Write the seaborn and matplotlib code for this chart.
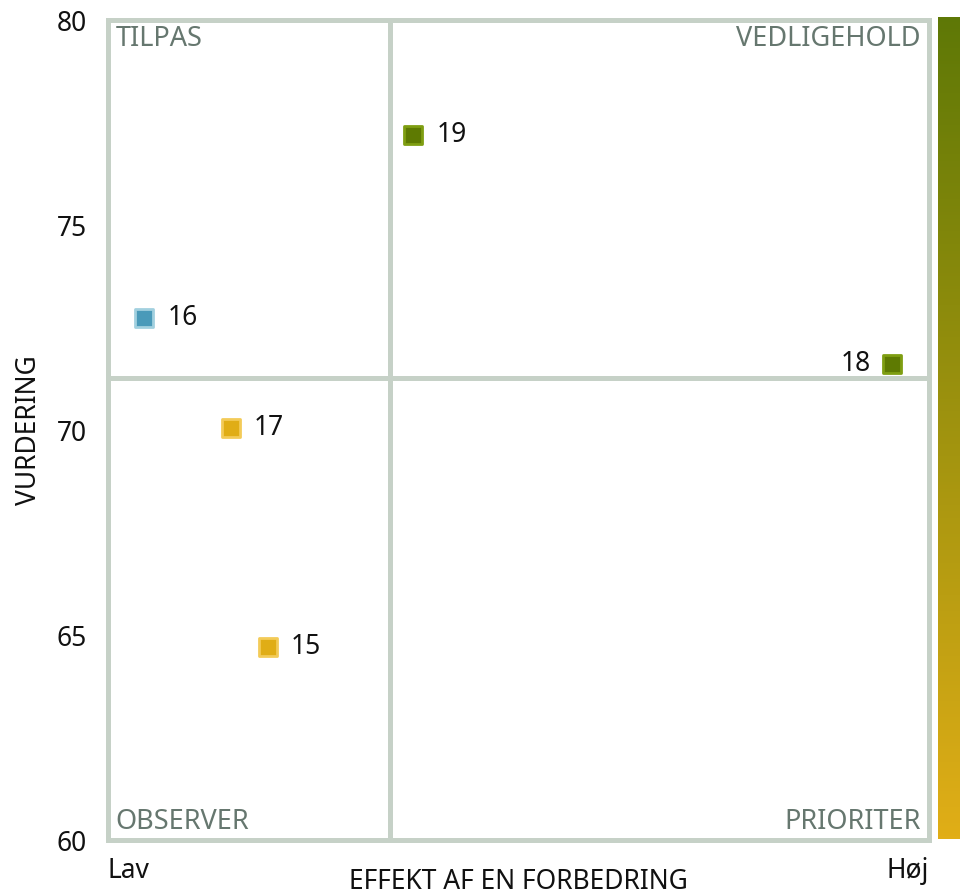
import numpy as np
import pandas as pd
import matplotlib
matplotlib.use("Agg")
import matplotlib.pyplot as plt
import seaborn as sns
from matplotlib.colors import LinearSegmentedColormap

## data: punkt nummer, effekt (andel af aksen Lav->Høj) og vurdering
punkt = ["15", "16", "17", "18", "19"]
effekt = [0.195, 0.045, 0.150, 0.955, 0.372]
vurdering = [64.71, 72.74, 70.04, 71.61, 77.19]

y_ticks = [60, 65, 70, 75, 80]
x_ticklabels = ["Lav", "Høj"]
x_title = "EFFEKT AF EN FORBEDRING"
y_title = "VURDERING"
kvadranter = ["TILPAS", "VEDLIGEHOLD", "OBSERVER", "PRIORITER"]

df = pd.DataFrame({"punkt": punkt, "effekt": effekt, "vurdering": vurdering})
mx = df.effekt.mean()
my = df.vurdering.mean()

def kvadrant(r):
    if r.vurdering >= my:
        return "TILPAS" if r.effekt < mx else "VEDLIGEHOLD"
    return "OBSERVER" if r.effekt < mx else "PRIORITER"

df["kvadrant"] = df.apply(kvadrant, axis=1)

# fyld og kant farver pr kvadrant
fyld = {"TILPAS": "#4a9ab9", "VEDLIGEHOLD": "#5e7a02",
        "OBSERVER": "#e0ad16", "PRIORITER": "#e0ad16"}
kant = {"TILPAS": "#a2d0df", "VEDLIGEHOLD": "#7f9e12",
        "OBSERVER": "#f3cb58", "PRIORITER": "#f3cb58"}

sns.set_style("white")
plt.rcParams['font.family'] = ['Noto Sans', 'DejaVu Sans']

fs = 19
fig = plt.figure(figsize=(9.6, 8.96), dpi=100)
ax = fig.add_axes([107.5/960, 56/896, 821.8/960, 820/896])

grid_col = "#c6d1c7"
lw = 3.6

for s in ax.spines.values():
    s.set_visible(True)
    s.set_color(grid_col)
    s.set_linewidth(lw)
    s.set_capstyle('projecting')

ax.axvline(mx, color=grid_col, lw=lw, solid_capstyle='projecting', clip_on=False, zorder=1)
ax.axhline(my, color=grid_col, lw=lw, solid_capstyle='projecting', clip_on=False, zorder=1)

for q, g in df.groupby("kvadrant"):
    sns.scatterplot(data=g, x="effekt", y="vurdering", marker="s", s=13**2,
                    color=fyld[q], edgecolor=kant[q], linewidth=2,
                    ax=ax, zorder=3, legend=False)

for _, r in df.iterrows():
    if r.effekt > 0.8:
        ax.annotate(r.punkt, (r.effekt, r.vurdering), xytext=(-21, 0),
                    textcoords='offset pixels', ha='right', va='center',
                    fontsize=fs, color='#111111')
    else:
        ax.annotate(r.punkt, (r.effekt, r.vurdering), xytext=(23, 0),
                    textcoords='offset pixels', ha='left', va='center',
                    fontsize=fs, color='#111111')

q_col = "#66776f"
qfs = 19.5
ax.annotate(kvadranter[0], (0, 1), xycoords='axes fraction', xytext=(8, -5),
            textcoords='offset pixels', ha='left', va='top', fontsize=qfs, color=q_col)
ax.annotate(kvadranter[1], (1, 1), xycoords='axes fraction', xytext=(-9, -5),
            textcoords='offset pixels', ha='right', va='top', fontsize=qfs, color=q_col)
ax.annotate(kvadranter[2], (0, 0), xycoords='axes fraction', xytext=(8, 11),
            textcoords='offset pixels', ha='left', va='baseline', fontsize=qfs, color=q_col)
ax.annotate(kvadranter[3], (1, 0), xycoords='axes fraction', xytext=(-9, 11),
            textcoords='offset pixels', ha='right', va='baseline', fontsize=qfs, color=q_col)

ax.set_xlim(0, 1)
ax.set_ylim(y_ticks[0], y_ticks[-1])
ax.set_yticks(y_ticks)
ax.set_xticks([0, 1])
ax.set_xticklabels(x_ticklabels)
ax.get_xticklabels()[0].set_ha('left')
ax.get_xticklabels()[1].set_ha('right')
ax.tick_params(axis='both', length=0, labelsize=fs, colors='#111111')
ax.tick_params(axis='y', pad=15)
ax.tick_params(axis='x', pad=12)

ax.set_xlabel(x_title, fontsize=fs, color='#111111')
ax.xaxis.set_label_coords(0.5, -0.034)
ax.set_ylabel(y_title, fontsize=fs, color='#111111')
ax.yaxis.set_label_coords(-0.078, 0.5)

# farve gradient til højre
cmap = LinearSegmentedColormap.from_list("grad", ["#e1ae17", "#5e7806"])
cax = fig.add_axes([938/960, 57/896, 22/960, 822/896])
cax.imshow(np.linspace(0, 1, 256)[:, None], aspect='auto', cmap=cmap, origin='lower')
cax.axis('off')

fig.savefig("out.png", dpi=100)
